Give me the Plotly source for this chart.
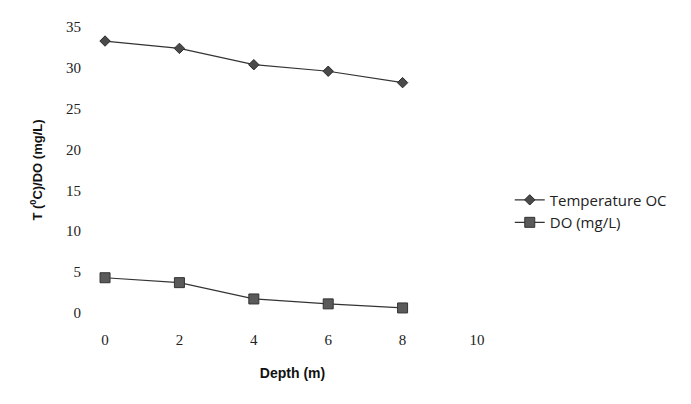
import plotly.graph_objects as go

depth = [0, 2, 4, 6, 8]
temperature = [33.3, 32.4, 30.4, 29.6, 28.2]
do_mgl = [4.3, 3.7, 1.7, 1.1, 0.6]
x_ticks = [0, 2, 4, 6, 8, 10]
y_ticks = [0, 5, 10, 15, 20, 25, 30, 35]

fig = go.Figure()
fig.add_trace(go.Scatter(
    x=depth, y=temperature, mode="lines+markers", name="Temperature OC",
    line=dict(color="#333333", width=1.2),
    marker=dict(symbol="diamond", size=8, color="#4a4a4a", line=dict(color="#2a2a2a", width=1)),
))
fig.add_trace(go.Scatter(
    x=depth, y=do_mgl, mode="lines+markers", name="DO (mg/L)",
    line=dict(color="#333333", width=1.2),
    marker=dict(symbol="square", size=10, color="#5a5a5a", line=dict(color="#333333", width=1)),
))

fig.update_layout(
    width=691, height=404,
    margin=dict(l=87, r=209, t=11, b=91),
    paper_bgcolor="white", plot_bgcolor="white",
    showlegend=True,
    legend=dict(x=1.05, y=0.455, xanchor="left", yanchor="top",
                font=dict(family="Open Sans, sans-serif", size=15, color="#222"),
                bgcolor="rgba(0,0,0,0)", itemwidth=30, tracegroupgap=0),
    font=dict(family="Liberation Serif, serif", color="#222"),
)
fig.update_xaxes(
    range=[-0.27, 10.35], tickvals=x_ticks, ticktext=[str(v) for v in x_ticks],
    showgrid=False, zeroline=False, showline=False,
    ticks="outside", ticklen=5, tickcolor="rgba(0,0,0,0)",
    tickfont=dict(family="Liberation Serif, serif", size=15, color="#222"),
    title=dict(text="<b>Depth (m)</b>", standoff=21,
               font=dict(family="Liberation Sans, Arial, sans-serif", size=14, color="#111")),
)
fig.update_yaxes(
    range=[-1, 36], tickvals=y_ticks, ticktext=[str(v) for v in y_ticks],
    showgrid=False, zeroline=False, showline=False,
    ticks="outside", ticklen=10, tickcolor="rgba(0,0,0,0)",
    tickfont=dict(family="Liberation Serif, serif", size=15, color="#222"),
    title=dict(text="<b>T (<sup>0</sup>C)/DO (mg/L)</b>", standoff=20,
               font=dict(family="Liberation Sans, Arial, sans-serif", size=13, color="#111")),
)

fig.write_html("out.html")
